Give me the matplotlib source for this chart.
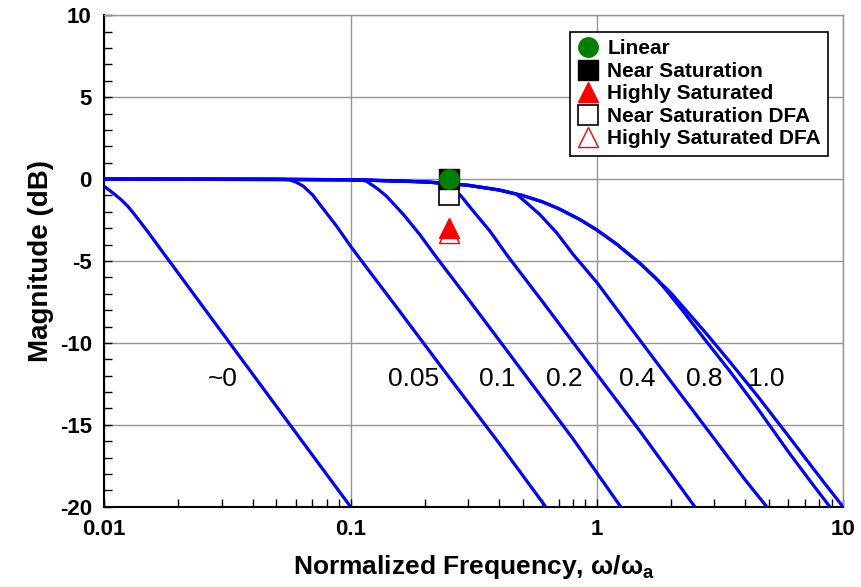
import matplotlib
matplotlib.use("Agg")
import matplotlib.pyplot as plt
from matplotlib.ticker import LogLocator, MultipleLocator, FixedLocator, FuncFormatter, NullFormatter

plt.rcParams['font.family'] = ['Liberation Sans', 'DejaVu Sans']
plt.rcParams['axes.unicode_minus'] = False
plt.rcParams['mathtext.fontset'] = 'custom'
plt.rcParams['mathtext.rm'] = 'Liberation Sans'
plt.rcParams['mathtext.bf'] = 'Liberation Sans:bold'

# Describing-function magnitude curves, one per rate-limit level
freq_r0 = [0.01, 0.0105, 0.011, 0.0117, 0.0125, 0.0135, 0.015, 0.0182, 0.0324, 0.0577, 0.1]
mag_r0 = [-0.45, -0.68, -0.92, -1.25, -1.68, -2.3, -3.2, -4.92, -10.03, -15.14, -20.0]

freq_r005 = [0.01, 0.0525, 0.0567, 0.06, 0.0643, 0.07, 0.0751, 0.0878, 0.1, 0.1162, 0.15, 0.25, 0.4, 0.62]
mag_r005 = [0.0, -0.01, -0.05, -0.18, -0.43, -0.95, -1.55, -2.87, -4.09, -5.4, -7.6, -12.05, -16.1, -20.0]

freq_r01 = [0.01, 0.05, 0.1, 0.11, 0.116, 0.12, 0.125, 0.13, 0.14, 0.164, 0.191, 0.224, 0.3, 0.5, 0.8, 1.25]
mag_r01 = [0.0, -0.01, -0.04, -0.06, -0.12, -0.28, -0.45, -0.64, -1.04, -2.16, -3.38, -4.8, -7.3, -11.75, -15.85, -20.0]

freq_r02 = [0.01, 0.1, 0.2, 0.23, 0.255, 0.28, 0.315, 0.368, 0.43, 0.6, 1.0, 1.5, 2.5]
mag_r02 = [0.0, -0.04, -0.17, -0.24, -0.5, -1.0, -1.95, -3.17, -4.6, -7.45, -11.9, -15.4, -20.0]

freq_r04 = [0.01, 0.1, 0.2, 0.3, 0.4, 0.472, 0.519, 0.587, 0.687, 0.802, 1.0, 1.5, 2.0, 3.0, 4.0, 4.9]
mag_r04 = [0.0, -0.04, -0.17, -0.37, -0.66, -0.92, -1.45, -2.16, -3.27, -4.6, -6.3, -9.85, -12.35, -15.85, -18.35, -20.0]

freq_r08 = [0.01, 0.05, 0.1, 0.15, 0.2, 0.25, 0.3, 0.4, 0.5, 0.6, 0.7, 0.85, 1.0, 1.2, 1.5, 1.75, 1.9,
            2.25, 2.75, 3.5, 4.5, 6.0, 7.5, 8.84]
mag_r08 = [0.0, -0.01, -0.04, -0.1, -0.17, -0.26, -0.38, -0.66, -1.0, -1.38, -1.8, -2.45, -3.1, -3.95,
           -5.15, -6.1, -6.72, -8.1, -9.8, -11.8, -14.0, -16.65, -18.6, -20.0]

freq_r10 = [0.01, 0.05, 0.1, 0.15, 0.2, 0.25, 0.3, 0.4, 0.5, 0.6, 0.7, 0.85, 1.0, 1.2, 1.5, 1.75, 2.0,
            2.25, 2.75, 3.5, 4.5, 6.0, 7.0, 8.5, 10.0]
mag_r10 = [0.0, -0.01, -0.04, -0.1, -0.17, -0.26, -0.38, -0.66, -1.0, -1.38, -1.8, -2.45, -3.1, -3.95,
           -5.15, -6.1, -6.95, -7.83, -9.33, -11.22, -13.25, -15.68, -17.0, -18.65, -20.0]

curve_labels = ['~0', '0.05', '0.1', '0.2', '0.4', '0.8', '1.0']
label_freq = [0.0303, 0.181, 0.393, 0.741, 1.456, 2.72, 4.86]
label_mag = -12.2

# Simulation points at w/wa = 0.25
point_freq = 0.25
linear_mag = 0.0
near_sat_mag = 0.0
high_sat_mag = -3.0
near_sat_dfa_mag = -1.0
high_sat_dfa_mag = -3.3

fig = plt.figure(figsize=(8.61, 5.87), dpi=100)
ax = fig.add_axes([0.1211, 0.1368, 0.8580, 0.8371])

blue = '#0000FF'
for fq, mg in [(freq_r0, mag_r0), (freq_r005, mag_r005), (freq_r01, mag_r01),
               (freq_r02, mag_r02), (freq_r04, mag_r04), (freq_r08, mag_r08),
               (freq_r10, mag_r10)]:
    ax.plot(fq, mg, color=blue, lw=2.3, solid_capstyle='butt', solid_joinstyle='round', zorder=3)

for txt, fx in zip(curve_labels, label_freq):
    ax.text(fx, label_mag, txt, fontsize=19, ha='center', va='center', color='black', zorder=4)

ms = 14
h_lin, = ax.plot([point_freq], [linear_mag], 'o', color='#008000', mec='#008000', ms=ms,
                 ls='none', zorder=9, label='Linear')
h_ns, = ax.plot([point_freq], [near_sat_mag], 's', color='black', mec='black', ms=ms,
                ls='none', zorder=8, label='Near Saturation')
h_hs, = ax.plot([point_freq], [high_sat_mag], '^', color='red', mec='red', ms=ms,
                ls='none', zorder=8, label='Highly Saturated')
h_nsd, = ax.plot([point_freq], [near_sat_dfa_mag], 's', mfc='white', mec='black', mew=1.2, ms=ms,
                 ls='none', zorder=6, label='Near Saturation DFA')
h_hsd, = ax.plot([point_freq], [high_sat_dfa_mag], '^', mfc='white', mec='red', mew=1.0, ms=ms,
                 ls='none', zorder=6, label='Highly Saturated DFA')

ax.set_xscale('log')
ax.set_xlim(0.01, 10)
ax.set_ylim(-20, 10)

ax.xaxis.set_major_locator(FixedLocator([0.01, 0.1, 1, 10]))
ax.xaxis.set_major_formatter(FuncFormatter(lambda v, p: '%g' % v))
ax.xaxis.set_minor_locator(LogLocator(base=10, subs=range(2, 10)))
ax.xaxis.set_minor_formatter(NullFormatter())
ax.yaxis.set_major_locator(MultipleLocator(5))
ax.yaxis.set_minor_locator(MultipleLocator(1))

ax.grid(True, which='major', color='#959595', lw=1.0, zorder=1)
ax.set_axisbelow(True)

ax.tick_params(which='both', direction='in', top=False, right=False, length=6, width=1.0,
               color='black')
ax.tick_params(which='major', labelsize=16, pad=9)
for lab in ax.get_xticklabels() + ax.get_yticklabels():
    lab.set_fontweight('bold')

for side in ['left', 'bottom']:
    ax.spines[side].set_color('black')
    ax.spines[side].set_linewidth(1.5)
for side in ['top', 'right']:
    ax.spines[side].set_color('#959595')
    ax.spines[side].set_linewidth(1.0)

ax.set_xlabel(r'Normalized Frequency, ω/ω$_{\mathbf{a}}$', fontsize=19, fontweight='bold', labelpad=9)
ax.set_ylabel('Magnitude (dB)', fontsize=20, fontweight='bold', labelpad=4)

leg = ax.legend(handles=[h_lin, h_ns, h_hs, h_nsd, h_hsd], loc='upper right',
                bbox_to_anchor=(0.98, 0.966), fancybox=False, framealpha=1,
                edgecolor='black', prop={'weight': 'bold', 'size': 15},
                handletextpad=0.35, borderpad=0.35, labelspacing=0.17, handlelength=1.1,
                borderaxespad=0, markerscale=1.0)
leg.get_frame().set_linewidth(1.2)
leg.set_zorder(10)

fig.savefig('out.png', dpi=100)
